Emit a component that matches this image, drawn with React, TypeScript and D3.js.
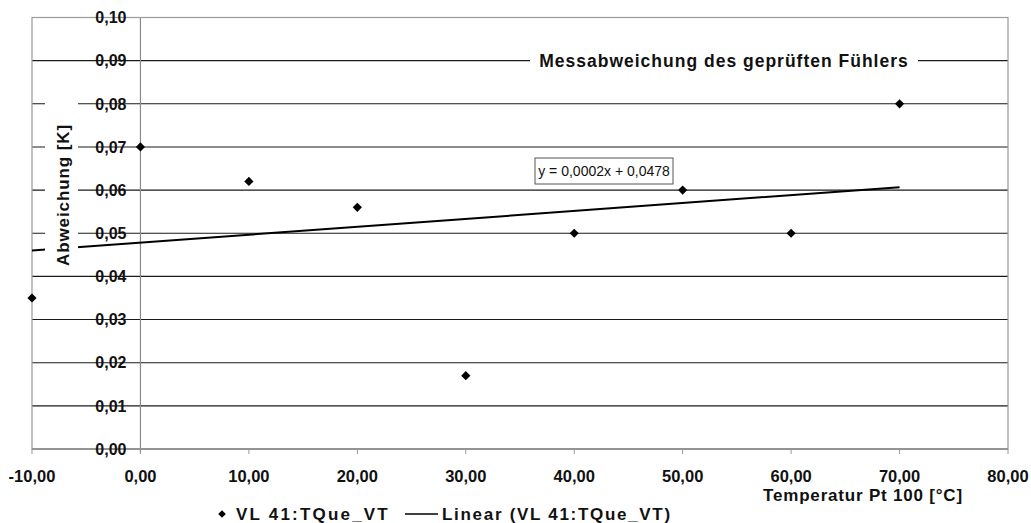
import React from 'react';
import * as d3 from 'd3';

// Measured deviation of the tested sensor against reference temperature
const temperatures = [-10, 0, 10, 20, 30, 40, 50, 60, 70];
const deviations = [0.035, 0.07, 0.062, 0.056, 0.017, 0.05, 0.06, 0.05, 0.08];

const xTicks = [-10, 0, 10, 20, 30, 40, 50, 60, 70, 80];
const yTicks = [0, 0.01, 0.02, 0.03, 0.04, 0.05, 0.06, 0.07, 0.08, 0.09, 0.1];

const seriesName = 'VL 41:TQue_VT';
const trendName = 'Linear (VL 41:TQue_VT)';
const xTitle = 'Temperatur Pt 100 [°C]';
const yTitle = 'Abweichung [K]';
const annotation = 'Messabweichung des geprüften Fühlers';

const W = 1031;
const H = 523;
const FONT = '"Liberation Sans", Arial, Helvetica, sans-serif';

const locale = d3.formatLocale({
  decimal: ',',
  thousands: '.',
  grouping: [3],
  currency: ['', ' €'],
  minus: '-',
});
const fmt2 = locale.format('.2f');
const fmt4 = locale.format('.4f');

// least-squares fit
function linearFit(xs: number[], ys: number[]) {
  const mx = d3.mean(xs)!;
  const my = d3.mean(ys)!;
  let sxy = 0;
  let sxx = 0;
  xs.forEach((x, i) => {
    sxy += (x - mx) * (ys[i] - my);
    sxx += (x - mx) * (x - mx);
  });
  const slope = sxy / sxx;
  return { slope, intercept: my - slope * mx };
}

// square marker rotated by 45°
const diamondPath = (r: number) => {
  const p = d3.path();
  p.moveTo(0, -r);
  p.lineTo(r, 0);
  p.lineTo(0, r);
  p.lineTo(-r, 0);
  p.closePath();
  return p.toString();
};

export default function App() {
  const x = d3.scaleLinear().domain([-10, 80]).range([32, 1008]);
  const y = d3.scaleLinear().domain([0, 0.1]).range([449, 17.5]);

  const fit = linearFit(temperatures, deviations);
  const [x0, x1] = d3.extent(temperatures) as [number, number];
  const trend = d3.line<number>()
    .x((t) => x(t))
    .y((t) => y(fit.slope * t + fit.intercept))([x0, x1]);

  const diamond = diamondPath(4.6);
  const eqText = `y = ${fmt4(fit.slope)}x + ${fmt4(fit.intercept)}`;

  const left = x(-10);
  const right = x(80);
  const top = y(0.1);
  const bottom = y(0);

  return (
    <svg
      width={W}
      height={H}
      viewBox={`0 0 ${W} ${H}`}
      style={{ position: 'absolute', left: 0, top: 0, background: '#fff' }}
      fontFamily={FONT}
    >
      <rect x={0} y={0} width={W} height={H} fill="#fff" />

      {/* horizontal gridlines */}
      {yTicks.map((t) => (
        <line key={'g' + t} x1={left} x2={right} y1={y(t)} y2={y(t)} stroke="#1a1a1a" strokeWidth={1.1} />
      ))}

      {/* y axis crossing at x = 0 */}
      <line x1={x(0)} x2={x(0)} y1={top} y2={bottom + 4} stroke="#8a8a8a" strokeWidth={1.2} />

      {/* plot frame */}
      <rect x={left} y={top} width={right - left} height={bottom - top} fill="none" stroke="#9a9a9a" strokeWidth={1.2} />

      {/* x ticks */}
      {xTicks.map((t) => (
        <line key={'xt' + t} x1={x(t)} x2={x(t)} y1={bottom} y2={bottom + 5} stroke="#999" strokeWidth={1} />
      ))}

      {/* trendline */}
      <path d={trend ?? ''} fill="none" stroke="#000" strokeWidth={2} />

      {/* data points */}
      {temperatures.map((t, i) => (
        <path key={'p' + t} d={diamond} transform={`translate(${x(t)},${y(deviations[i])})`} fill="#000" />
      ))}

      {/* y tick labels */}
      {yTicks.map((t) => (
        <text
          key={'yl' + t}
          x={x(0) - 14}
          y={y(t)}
          dy="0.36em"
          textAnchor="end"
          fontSize={16}
          fontWeight="bold"
          fill="#111"
        >
          {fmt2(t)}
        </text>
      ))}

      {/* x tick labels */}
      {xTicks.map((t) => (
        <text
          key={'xl' + t}
          x={x(t)}
          y={482}
          textAnchor="middle"
          fontSize={16.5}
          fontWeight="bold"
          fill="#111"
        >
          {fmt2(t)}
        </text>
      ))}

      {/* y axis title on a white plate */}
      <rect x={45} y={88} width={33} height={182} fill="#fff" />
      <text
        transform="translate(69,195) rotate(-90)"
        textAnchor="middle"
        fontSize={17}
        fontWeight="bold"
        letterSpacing={0.9}
        fill="#111"
      >
        {yTitle}
      </text>

      {/* annotation on the 0,09 gridline */}
      <rect x={530} y={y(0.09) - 11} width={388} height={22} fill="#fff" />
      <text
        x={724}
        y={y(0.09)}
        dy="0.36em"
        textAnchor="middle"
        fontSize={17.5}
        fontWeight="bold"
        letterSpacing={1}
        fill="#111"
      >
        {annotation}
      </text>

      {/* regression equation */}
      <rect x={535} y={158} width={138} height={26} fill="#fff" stroke="#555" strokeWidth={1} />
      <text x={604} y={171} dy="0.36em" textAnchor="middle" fontSize={14} fill="#111">
        {eqText}
      </text>

      {/* x axis title */}
      <text x={863} y={501} textAnchor="middle" fontSize={17} fontWeight="bold" letterSpacing={0.8} fill="#111">
        {xTitle}
      </text>

      {/* legend */}
      <path d={diamondPath(3.8)} transform="translate(222,514)" fill="#000" />
      <text x={236} y={520} fontSize={17} fontWeight="bold" letterSpacing={2.2} fill="#111">
        {seriesName}
      </text>
      <line x1={405} x2={438} y1={514} y2={514} stroke="#000" strokeWidth={1.5} />
      <text x={442} y={520} fontSize={17} fontWeight="bold" letterSpacing={1.7} fill="#111">
        {trendName}
      </text>
    </svg>
  );
}
